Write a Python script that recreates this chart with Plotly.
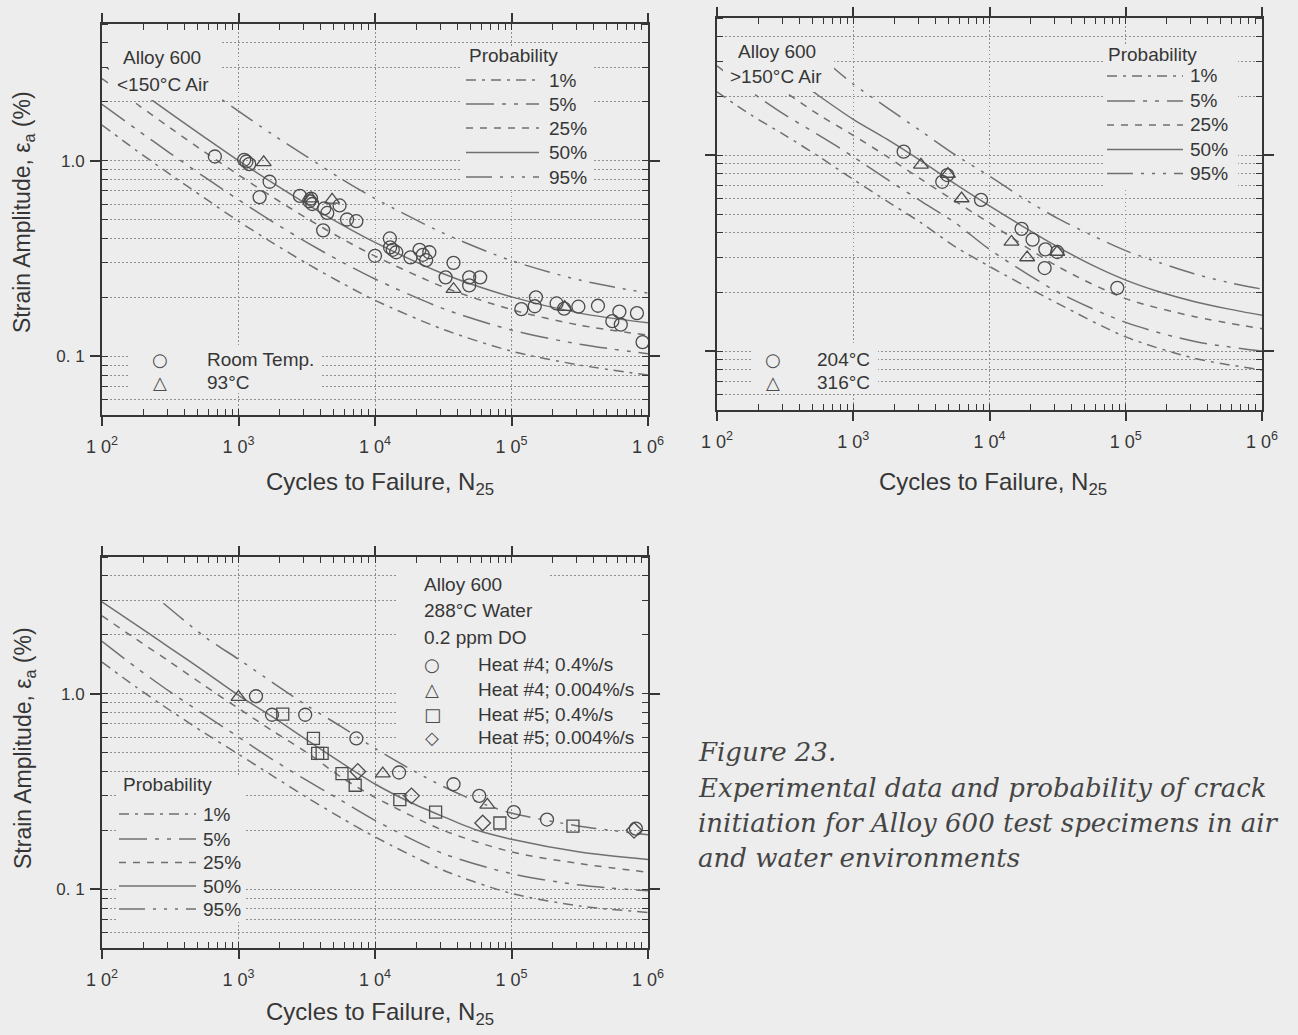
import plotly.graph_objects as go

W, H = 1298, 1035
BG = "#ededed"
INK = "#363636"
CURVE = "#707070"
GRID = "#8f8f8f"
MARK = "#4c4c4c"
FONT = "Liberation Sans, Arial, Helvetica, sans-serif"

# ---------------- data ----------------
# common cycle grids
N13 = [100, 178, 316, 562, 1000, 1778, 3162, 5623, 10000, 31623, 100000, 316228, 1000000]
N15 = [100, 178, 316, 562, 1000, 1778, 3162, 5623, 10000, 17783, 31623, 56234, 100000, 316228, 1000000]

# Panel 1: Alloy 600, <150 C air  -- probability curves
A1_P50_N = [108, 178, 316, 562, 1000, 1778, 3162, 5623, 10000, 31623, 100000, 316228, 1000000]
A1_P50_E = [3.0, 2.33, 1.75, 1.32, 1.0, 0.77, 0.60, 0.474, 0.382, 0.264, 0.201, 0.166, 0.148]
A1_P95_N = [352, 562, 1000, 1778, 3162, 5623, 10000, 31623, 100000, 316228, 1000000]
A1_P95_E = [3.0, 2.37, 1.79, 1.36, 1.05, 0.81, 0.64, 0.426, 0.308, 0.245, 0.21]
A1_P25_E = [2.63, 1.96, 1.47, 1.11, 0.845, 0.651, 0.507, 0.402, 0.325, 0.226, 0.173, 0.144, 0.128]
A1_P05_E = [1.94, 1.45, 1.09, 0.825, 0.631, 0.487, 0.382, 0.305, 0.248, 0.175, 0.136, 0.115, 0.103]
A1_P01_E = [1.52, 1.13, 0.85, 0.645, 0.49, 0.38, 0.298, 0.238, 0.193, 0.137, 0.106, 0.09, 0.08]

# Panel 1 data: Room Temp. (circles), 93 C (triangles)
A1_RT_N = [671, 1142, 1198, 1100, 1690, 1427, 2818, 3300, 3470, 3400, 4250, 4470, 5500, 6240, 7300,
           4170, 10000, 12850, 12900, 13500, 14300, 18200, 21200, 22400, 23700, 25000, 37600, 32900,
           49000, 59000, 49000, 118000, 151000, 148000, 214000, 243000, 309000, 430000, 548000,
           617000, 632000, 830000, 912000]
A1_RT_E = [1.05, 0.99, 0.96, 1.01, 0.78, 0.65, 0.66, 0.62, 0.60, 0.64, 0.57, 0.54, 0.59, 0.50, 0.49,
           0.44, 0.326, 0.40, 0.36, 0.35, 0.34, 0.32, 0.35, 0.33, 0.31, 0.34, 0.30, 0.253,
           0.253, 0.253, 0.23, 0.174, 0.20, 0.18, 0.186, 0.175, 0.179, 0.181, 0.151,
           0.169, 0.145, 0.166, 0.118]
A1_93_N = [1530, 3400, 4850, 37600, 245000]
A1_93_E = [0.98, 0.64, 0.63, 0.22, 0.178]

# Panel 2: Alloy 600, >150 C air
A2_P50_N = [251, 562, 1000, 1778, 3162, 5623, 10000, 17783, 31623, 56234, 100000, 177828, 316228, 562341, 1000000]
A2_P50_E = [3.0, 2.0, 1.52, 1.2, 0.93, 0.71, 0.55, 0.43, 0.34, 0.275, 0.23, 0.2, 0.179, 0.164, 0.152]
A2_P95_N = [631, 1000, 1778, 3162, 5623, 10000, 17783, 31623, 56234, 100000, 177828, 316228, 562341, 1000000]
A2_P95_E = [3.0, 2.3, 1.74, 1.32, 1.0, 0.78, 0.6, 0.475, 0.39, 0.325, 0.282, 0.248, 0.224, 0.207]
A2_P25_N = [158, 316, 562, 1000, 1778, 3162, 5623, 10000, 31623, 100000, 316228, 1000000]
A2_P25_E = [3.0, 2.1, 1.6, 1.26, 0.98, 0.75, 0.58, 0.45, 0.27, 0.185, 0.15, 0.13]
A2_P05_E = [2.85, 2.1, 1.6, 1.26, 0.98, 0.75, 0.58, 0.45, 0.33, 0.2, 0.14, 0.112, 0.1]
A2_P01_E = [2.1, 1.6, 1.26, 0.98, 0.75, 0.58, 0.45, 0.34, 0.27, 0.175, 0.118, 0.092, 0.08]

A2_204_N = [2345, 4900, 4500, 8670, 17200, 20700, 25700, 25400, 31400, 86700]
A2_204_E = [1.04, 0.79, 0.73, 0.59, 0.42, 0.37, 0.33, 0.265, 0.32, 0.21]
A2_316_N = [3140, 4950, 6240, 14500, 18900, 31400]
A2_316_E = [0.89, 0.80, 0.60, 0.36, 0.30, 0.32]

# Panel 3: Alloy 600, 288 C water, 0.2 ppm DO
W_P50_E = [2.95, 2.25, 1.71, 1.30, 0.98, 0.76, 0.58, 0.445, 0.345, 0.28, 0.235, 0.20, 0.18, 0.155, 0.142]
W_P95_N = [282, 562, 1000, 1778, 3162, 5623, 10000, 17783, 31623, 56234, 100000, 316228, 1000000]
W_P95_E = [2.9, 1.96, 1.5, 1.14, 0.87, 0.68, 0.525, 0.415, 0.335, 0.28, 0.245, 0.21, 0.19]
W_P25_E = [2.5, 1.9, 1.45, 1.1, 0.84, 0.645, 0.5, 0.375, 0.295, 0.2, 0.155, 0.135, 0.122]
W_P05_E = [1.85, 1.36, 1.02, 0.78, 0.6, 0.46, 0.36, 0.285, 0.225, 0.152, 0.12, 0.105, 0.098]
W_P01_E = [1.45, 1.08, 0.82, 0.63, 0.49, 0.38, 0.295, 0.232, 0.185, 0.125, 0.095, 0.082, 0.076]

H4F_N = [1343, 1760, 3080, 7300, 15000, 37600, 58000, 104000, 182000, 815000]
H4F_E = [0.97, 0.78, 0.78, 0.59, 0.395, 0.344, 0.30, 0.248, 0.227, 0.204]
H4S_N = [1000, 11400, 66500]
H4S_E = [0.96, 0.39, 0.27]
H5F_N = [2110, 3540, 3800, 4100, 5730, 7160, 15200, 27800, 82200, 282000]
H5F_E = [0.785, 0.59, 0.495, 0.495, 0.39, 0.34, 0.287, 0.248, 0.218, 0.21]
H5S_N = [7480, 18500, 61500, 790000]
H5S_E = [0.40, 0.30, 0.218, 0.20]

PROB_LABELS = ["1%", "5%", "25%", "50%", "95%"]
X_TICKS = [100, 1000, 10000, 100000, 1000000]
X_TICKTEXT = ["1 0<sup>2</sup>", "1 0<sup>3</sup>", "1 0<sup>4</sup>", "1 0<sup>5</sup>", "1 0<sup>6</sup>"]
Y_TICKS = [0.1, 1.0]
Y_TICKTEXT = ["0. 1", "1.0"]

# ---------------- styles ----------------
DASH = {
    "1%": "10px,6px,3px,6px",
    "5%": "28px,8px,4px,8px,4px,8px",
    "25%": "7px,7px",
    "50%": "solid",
    "95%": "26px,8px,3px,8px,3px,8px,3px,8px",
}
GRID_DASH = "1.5px,2.5px"

# minor tick positions (the decade values give the inner half of the crossing major ticks)
X_MINOR = [k * 10 ** d for d in range(2, 6) for k in range(2, 10)] + [1000, 10000, 100000]
Y_MINOR = [0.05, 0.06, 0.07, 0.08, 0.09, 0.1, 0.2, 0.3, 0.4, 0.5, 0.6, 0.7, 0.8, 0.9, 1, 2, 3, 4, 5]


def fx(px):
    return px / W


def fy(py):
    return 1 - py / H


def xaxis(dom, anchor):
    return dict(type="log", range=[2, 6], domain=[fx(dom[0]), fx(dom[1])], anchor=anchor,
                automargin=False,
                tickmode="array", tickvals=X_TICKS, ticktext=X_TICKTEXT,
                ticks="outside", ticklen=9, tickwidth=1.6, tickcolor=INK,
                showline=True, linecolor=INK, linewidth=2, mirror="allticks",
                showgrid=True, gridcolor=GRID, griddash=GRID_DASH, gridwidth=1, zeroline=False,
                minor=dict(tickmode="array", tickvals=X_MINOR, ticks="inside", ticklen=6,
                           tickwidth=1.3, tickcolor=INK, showgrid=False),
                tickfont=dict(family=FONT, size=18, color=INK), ticklabelstandoff=5)


def yaxis(dom, anchor, labels=True):
    return dict(type="log", range=[-1.30103, 0.69897], domain=[fy(dom[1]), fy(dom[0])], anchor=anchor,
                automargin=False,
                tickmode="array", tickvals=Y_TICKS, ticktext=Y_TICKTEXT, showticklabels=labels,
                ticks="outside", ticklen=10, tickwidth=1.6, tickcolor=INK,
                showline=True, linecolor=INK, linewidth=2, mirror="allticks",
                showgrid=True, gridcolor=GRID, griddash=GRID_DASH, gridwidth=1, zeroline=False,
                minor=dict(tickmode="array", tickvals=Y_MINOR, ticks="inside", ticklen=6,
                           tickwidth=1.3, tickcolor=INK, showgrid=True, gridcolor=GRID,
                           griddash=GRID_DASH, gridwidth=1),
                tickfont=dict(family=FONT, size=17, color=INK), ticklabelstandoff=2)


fig = go.Figure()


def add_curves(xa, ya, sets):
    for label, xs, ys in sets:
        fig.add_trace(go.Scatter(x=xs, y=ys, mode="lines", xaxis=xa, yaxis=ya,
                                 line=dict(color=CURVE, width=1.5, dash=DASH[label], shape="spline", smoothing=0.8),
                                 hoverinfo="skip", showlegend=False))


def add_points(xa, ya, xs, ys, symbol, size=13):
    fig.add_trace(go.Scatter(x=xs, y=ys, mode="markers", xaxis=xa, yaxis=ya,
                             marker=dict(symbol=symbol, size=size, color=MARK, line=dict(width=1.3, color=MARK)),
                             showlegend=False, cliponaxis=False))


add_curves("x", "y", [("1%", N13, A1_P01_E), ("5%", N13, A1_P05_E), ("25%", N13, A1_P25_E),
                      ("50%", A1_P50_N, A1_P50_E), ("95%", A1_P95_N, A1_P95_E)])
add_points("x", "y", A1_RT_N, A1_RT_E, "circle-open")
add_points("x", "y", A1_93_N, A1_93_E, "triangle-up-open")

add_curves("x2", "y2", [("1%", N13, A2_P01_E), ("5%", N13, A2_P05_E), ("25%", A2_P25_N, A2_P25_E),
                        ("50%", A2_P50_N, A2_P50_E), ("95%", A2_P95_N, A2_P95_E)])
add_points("x2", "y2", A2_204_N, A2_204_E, "circle-open")
add_points("x2", "y2", A2_316_N, A2_316_E, "triangle-up-open")

add_curves("x3", "y3", [("1%", N13, W_P01_E), ("5%", N13, W_P05_E), ("25%", N13, W_P25_E),
                        ("50%", N15, W_P50_E), ("95%", W_P95_N, W_P95_E)])
add_points("x3", "y3", H4F_N, H4F_E, "circle-open")
add_points("x3", "y3", H4S_N, H4S_E, "triangle-up-open")
add_points("x3", "y3", H5F_N, H5F_E, "square-open", 12)
add_points("x3", "y3", H5S_N, H5S_E, "diamond-open", 12)

# ---------------- layout: masks, legend keys, texts ----------------
shapes = []


def mask(x0, y0, x1, y1):
    shapes.append(dict(type="rect", xref="paper", yref="paper", x0=fx(x0), x1=fx(x1), y0=fy(y1), y1=fy(y0),
                       fillcolor=BG, line=dict(width=0), layer="above"))


def key(x0, x1, y, label):
    shapes.append(dict(type="line", xref="paper", yref="paper", x0=fx(x0), x1=fx(x1), y0=fy(y), y1=fy(y),
                       line=dict(color=CURVE, width=1.5, dash=DASH[label]), layer="above"))


annotations = []


def txt(px, py, s, size=19, anchor="left", family=FONT, color=INK, angle=0):
    annotations.append(dict(x=fx(px), y=fy(py), xref="paper", yref="paper", text=s, showarrow=False,
                            xanchor=anchor, yanchor="middle", textangle=angle,
                            font=dict(family=family, size=size, color=color)))


# panel 1
mask(109, 30, 220, 100)
mask(462, 46, 592, 190)
mask(128, 345, 320, 393)
txt(121, 58, "Alloy 600")
txt(115, 84, "&lt;150°C Air")
txt(467, 56, "Probability")
for lab, yy in zip(PROB_LABELS, [80, 104, 128, 152.5, 177]):
    key(466, 539, yy, lab)
    txt(547, yy, lab)
txt(160, 359, "○", size=18, anchor="center", family="DejaVu Sans", color=MARK)
txt(160, 382, "△", size=18, anchor="center", family="DejaVu Sans", color=MARK)
txt(205, 359, "Room Temp.")
txt(205, 382, "93°C")

# panel 2
mask(723, 40, 834, 92)
mask(1104, 44, 1238, 188)
mask(752, 343, 878, 392)
txt(736, 52, "Alloy 600")
txt(728, 77, "&gt;150°C Air")
txt(1106, 54, "Probability")
for lab, yy in zip(PROB_LABELS, [76, 101, 125, 149.5, 173.5]):
    key(1107, 1183, yy, lab)
    txt(1188, yy, lab)
txt(773, 359, "○", size=18, anchor="center", family="DejaVu Sans", color=MARK)
txt(773, 382, "△", size=18, anchor="center", family="DejaVu Sans", color=MARK)
txt(815, 359, "204°C")
txt(815, 382, "316°C")

# panel 3
mask(398, 565, 548, 746)
mask(548, 590, 641, 746)
mask(116, 775, 246, 922)
txt(422, 584, "Alloy 600")
txt(422, 610.5, "288°C Water")
txt(422, 637, "0.2 ppm DO")
for sym, lab, yy in zip(["○", "△", "□", "◇"],
                        ["Heat #4; 0.4%/s", "Heat #4; 0.004%/s", "Heat #5; 0.4%/s", "Heat #5; 0.004%/s"],
                        [664, 689, 714, 737]):
    txt(432, yy, sym, size=18, anchor="center", family="DejaVu Sans", color=MARK)
    txt(476, yy, lab)
txt(121, 784, "Probability")
for lab, yy in zip(PROB_LABELS, [814, 839, 862.5, 886, 909]):
    key(119, 196, yy, lab)
    txt(201, yy, lab)

# axis titles
YT = "Strain Amplitude, ε<sub>a</sub> (%)"
XT = "Cycles to Failure, N<sub>25</sub>"
txt(24, 212, YT, size=23, anchor="center", angle=-90)
txt(24, 748, YT, size=23, anchor="center", angle=-90)
txt(380, 483, XT, size=24, anchor="center")
txt(993, 483, XT, size=24, anchor="center")
txt(380, 1013, XT, size=24, anchor="center")

# caption
CAP = "DejaVu Serif, Liberation Serif, serif"
CAPC = "#454545"
txt(696, 752, "<i>Figure 23.</i>", size=26, family=CAP, color=CAPC)
txt(696, 788, "<i>Experimental data and probability of crack</i>", size=26, family=CAP, color=CAPC)
txt(696, 823, "<i>initiation for Alloy 600 test specimens in air</i>", size=26, family=CAP, color=CAPC)
txt(696, 858, "<i>and water environments</i>", size=26, family=CAP, color=CAPC)

fig.update_layout(
    width=W, height=H, autosize=False,
    margin=dict(l=0, r=0, t=0, b=0, pad=0, autoexpand=False),
    paper_bgcolor=BG, plot_bgcolor=BG,
    showlegend=False,
    font=dict(family=FONT, color=INK),
    xaxis=xaxis((102, 648), "y"), yaxis=yaxis((24, 415), "x"),
    xaxis2=xaxis((717, 1262), "y2"), yaxis2=yaxis((18, 410), "x2", labels=False),
    xaxis3=xaxis((102, 648), "y3"), yaxis3=yaxis((557, 948), "x3"),
    shapes=shapes, annotations=annotations,
)

fig.write_html("out.html")
